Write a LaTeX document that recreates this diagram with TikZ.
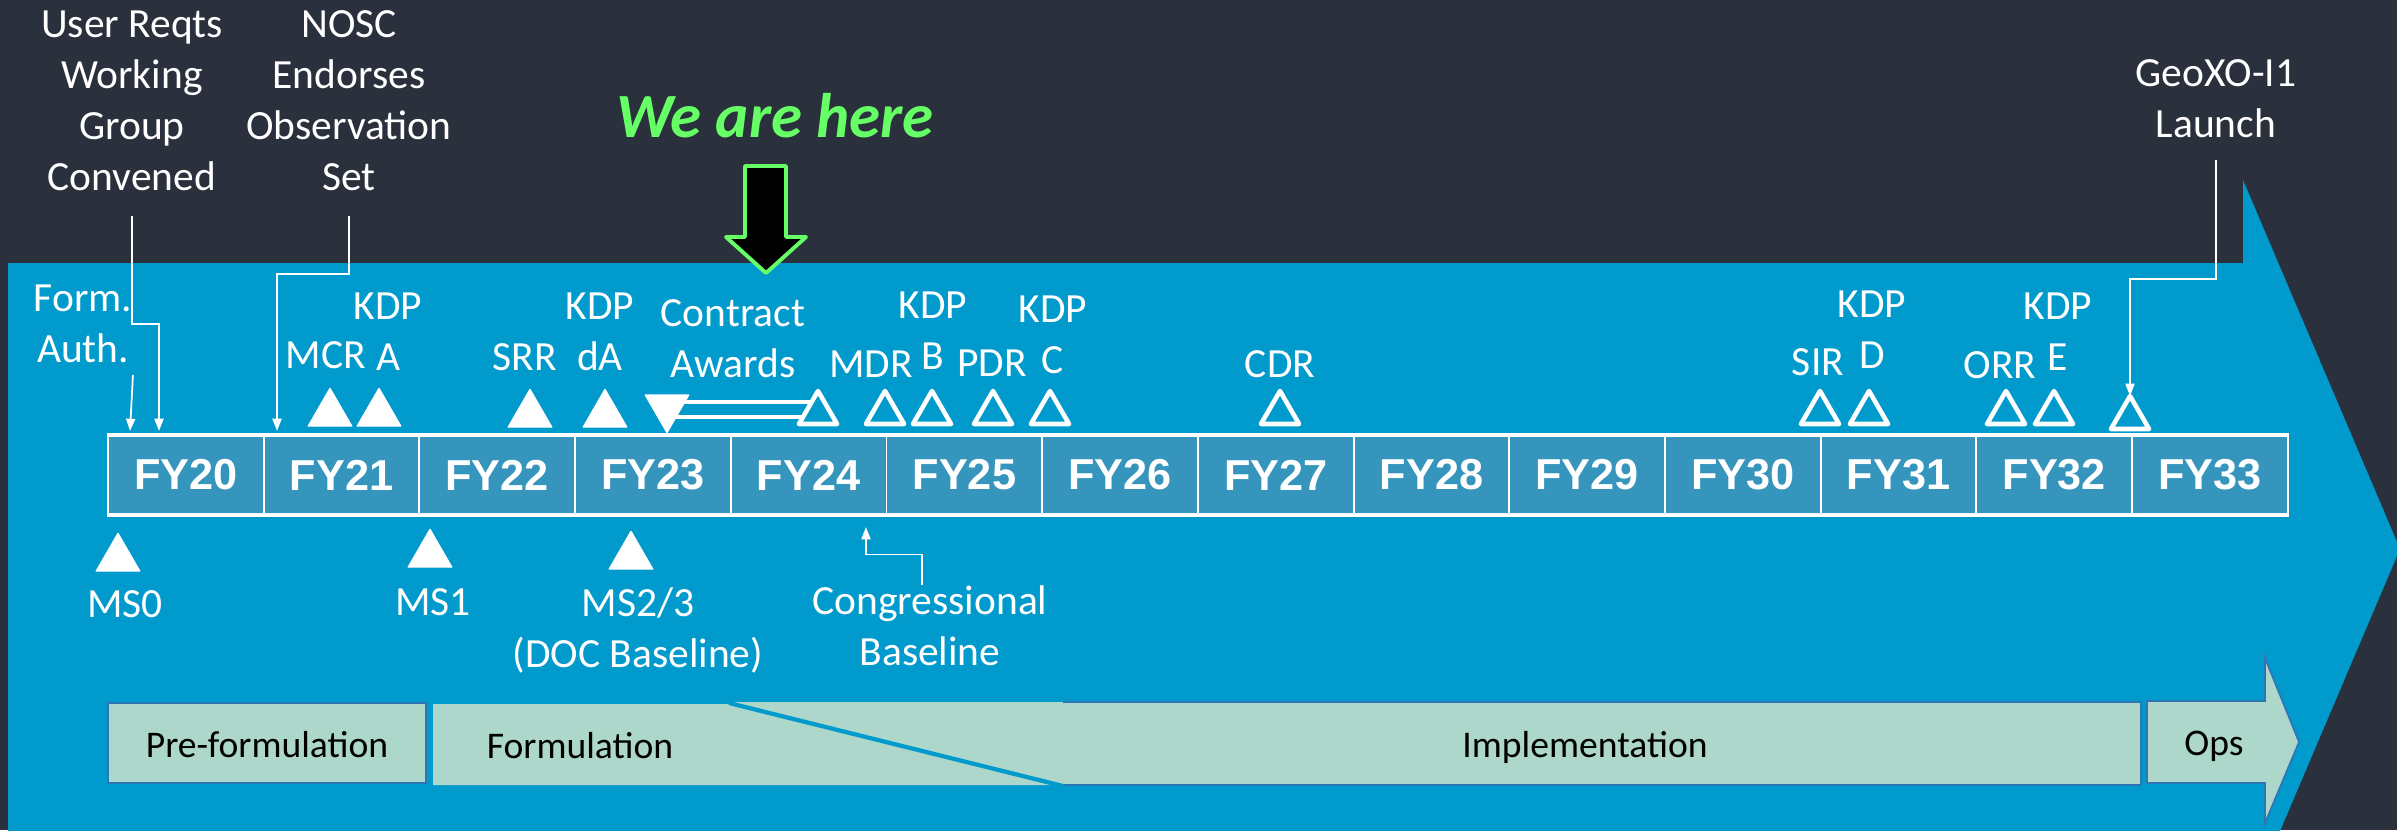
\documentclass[tikz,border=0pt]{standalone}
\usepackage{fontspec}
\setmainfont{Carlito}
\newfontfamily\fyfont{Liberation Sans}
\usepackage{tikz}
\usetikzlibrary{arrows.meta}
\usetikzlibrary{shapes.geometric}

\definecolor{slate}{HTML}{2B303D}
\definecolor{band}{HTML}{009ACD}
\definecolor{yearfill}{HTML}{3695BD}
\definecolor{phasefill}{HTML}{ADD7CA}
\definecolor{phaseline}{HTML}{2E75B6}
\definecolor{herecol}{HTML}{66FF66}

\tikzset{
  lbl/.style={text=white, font=\fontsize{11.8}{14.5}\selectfont, align=center, inner sep=0pt, anchor=base},
  fybox/.style={draw=white, line width=0.55pt, fill=yearfill, minimum width=1.557cm, minimum height=0.78cm,
    inner sep=0pt, text=white, font=\fyfont\bfseries\fontsize{12.3}{14}\selectfont},
  msfull/.style={regular polygon, regular polygon sides=3, minimum size=0.5cm, inner sep=0pt, outer sep=0pt,
    fill=white, draw=white, line width=0.4pt, line join=round, anchor=south},
  mshollow/.style={regular polygon, regular polygon sides=3, minimum size=0.44cm, inner sep=0pt, outer sep=0pt,
    fill=band, draw=white, line width=1.3pt, line join=round, anchor=south},
  callout/.style={draw=white, line width=0.5pt, -{Triangle[length=3.5pt,width=2.6pt]}},
  phase/.style={fill=phasefill, draw=phaseline, line width=0.5pt},
  phasetxt/.style={text=black, font=\fontsize{10.7}{13}\selectfont, inner sep=0pt, anchor=base}
}

\begin{document}
\begin{tikzpicture}[x=0.01cm, y=-0.01cm]
\useasboundingbox (0,0) rectangle (2397,830);
\fill[slate] (0,0) rectangle (2397,830);
\clip (0,0) rectangle (2397,830);

%%% big arrow
\fill[band] (8,263) -- (2243,263) -- (2243,180) -- (2400,549) -- (2243,918) -- (2243,835) -- (8,835) -- cycle;

%%% fiscal years
\foreach \yr [count=\i from 0] in {20,...,33}
  \node[fybox] (fy\yr) at ({185.85+155.7*\i},475) {FY\yr};
\draw[white, line width=0.9pt] (fy20.north west) -- (fy33.north east);
\draw[white, line width=0.9pt] (fy20.south west) -- (fy33.south east);

%%% milestones above
% award window (under the triangles)
\coordinate (bar-l) at (672,402);
\coordinate (bar-r) at (818,417);
\draw[white, line width=1.3pt] (bar-l) rectangle (bar-r);

% done
\node[msfull] (mcr-t) at (330,426) {};
\node[msfull] (kdpa-t) at (379,426) {};
\node[msfull] (srr-t) at (530,427) {};
\node[msfull] (kdpda-t) at (605,427) {};
\node[msfull, shape border rotate=180, anchor=north] (award-t) at (667,395) {};

% to come
\foreach \nm/\xx in {awdend/818, mdr/885, kdpb/932, pdr/993, kdpc/1050, cdr/1280, sir/1820, kdpd/1869, orr/2006, kdpe/2054}
  \node[mshollow] (\nm-t) at (\xx,424) {};
\node[mshollow] (geo-t) at (2130,429) {};

%%% milestones below
\node[msfull] (ms0-t) at (118,571) {};
\node[msfull] (ms1-t) at (430,567) {};
\node[msfull] (ms23-t) at (631,569) {};

%%% labels (placed at the baseline of the last line)
\node[lbl] (reqts) at (132,190) {User Reqts\\Working\\Group\\Convened};
\node[lbl] (nosc) at (349,190) {NOSC\\Endorses\\Observation\\Set};
\node[lbl] (launch) at (2216,137) {GeoXO-I1\\Launch};
\node[lbl] (formauth) at (83,362) {Form.\\Auth.};
\node[lbl] (mcr) at (326,368) {MCR};
\node[lbl] (kdpa) at (388,370) {KDP\\A};
\node[lbl] (srr) at (525,370) {SRR};
\node[lbl] (kdpda) at (600,370) {KDP\\dA};
\node[lbl] (awards) at (733,377) {Contract\\Awards};
\node[lbl] (mdr) at (871,377) {MDR};
\node[lbl] (kdpb) at (933,369) {KDP\\B};
\node[lbl] (pdr) at (992,376) {PDR};
\node[lbl] (kdpc) at (1053,373) {KDP\\C};
\node[lbl] (cdr) at (1280,377) {CDR};
\node[lbl] (sir) at (1818,375) {SIR};
\node[lbl] (kdpd) at (1872,368) {KDP\\D};
\node[lbl] (orr) at (2000,378) {ORR};
\node[lbl] (kdpe) at (2058,370) {KDP\\E};

\node[lbl] (ms0) at (125,617) {MS0};
\node[lbl] (ms1) at (433,615) {MS1};
\node[lbl] (ms23) at (638,667) {MS2/3\\(DOC Baseline)};
\node[lbl] (congress) at (930,665) {Congressional\\Baseline};

% we are here
\node[text=herecol, font=\bfseries\itshape\fontsize{17.9}{20}\selectfont, inner sep=0pt, anchor=base] (here) at (775,137) {We are here};
\draw[herecol, fill=black, line width=1.1pt, line join=round] (745,166) -- (786,166) -- (786,237) -- (806,237) -- (766,273) -- (726,237) -- (745,237) -- cycle;

%%% callouts
\coordinate (auth-pin) at (130,431);
\coordinate (reqts-pin) at (159,431);
\coordinate (nosc-pin) at (277,431);
\coordinate (cong-pin) at (866,527);

\draw[callout] (formauth.south east) ++(0,12) -- (auth-pin);
\draw[callout] (reqts.south) ++(0,25) -- ++(0,108) -| (reqts-pin);
\draw[callout] (nosc.south) ++(0,25) -- ++(0,58) -| (nosc-pin);
\draw[callout] (launch.south) ++(0,22) -- ++(0,119) -| (geo-t.north);
\draw[callout] ([xshift=-0.08cm]congress.north) -- ++(0,-30) -| (cong-pin);

%%% phases
% pre-formulation
\draw[phase] (108,703) rectangle (426,783);
\node[phasetxt] (pre) at (267,757) {Pre-formulation};

% formulation
\fill[phasefill] (433,704) -- (729,704) -- (1063,785) -- (433,785) -- cycle;
\node[phasetxt] (form) at (580,758) {Formulation};

% implementation
\fill[phasefill] (729,702) -- (2141,702) -- (2141,785) -- (1063,785) -- cycle;
\draw[phaseline, line width=0.5pt] (1063,702) -- (2141,702) -- (2141,785) -- (1063,785);
\draw[band, line width=1.2pt] (729,703) -- (1063,786);
\node[phasetxt] (impl) at (1585,757) {Implementation};

% ops
\draw[phase] (2147,701) -- (2265,701) -- (2265,658) -- (2299,742) -- (2265,823) -- (2265,783) -- (2147,783) -- cycle;
\node[phasetxt] (ops) at (2214,755) {Ops};

\end{tikzpicture}
\end{document}
